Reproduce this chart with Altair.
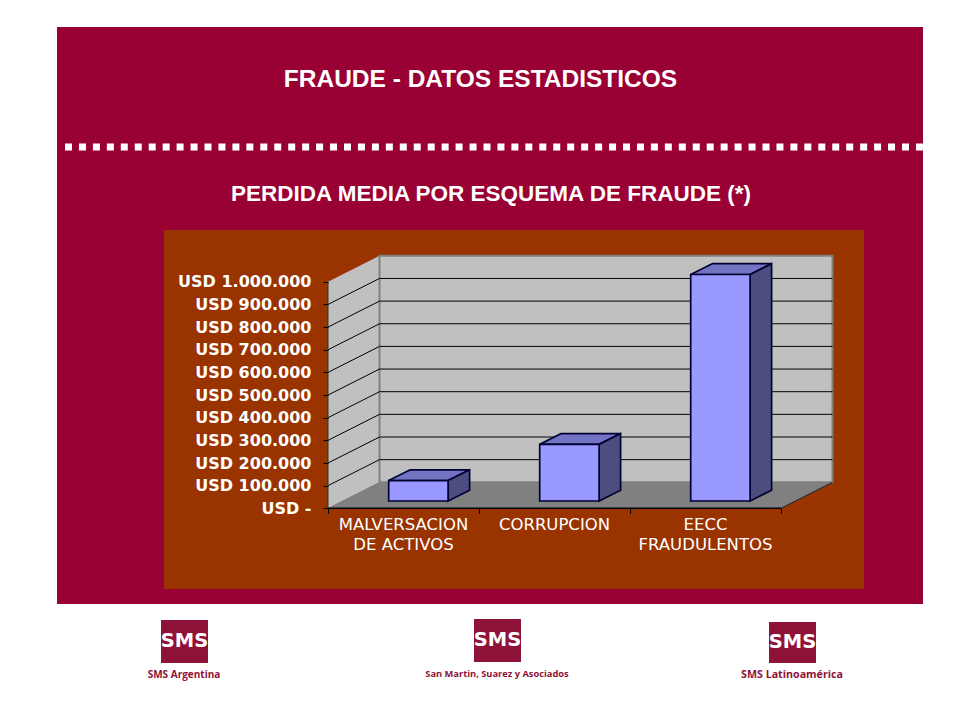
import altair as alt
import pandas as pd

# ---- chart values -------------------------------------------------------
categories = ["MALVERSACION\nDE ACTIVOS", "CORRUPCION", "EECC\nFRAUDULENTOS"]
losses = [90000, 250000, 1000000]
tick_values = [0, 100000, 200000, 300000, 400000, 500000, 600000, 700000, 800000, 900000, 1000000]
logo_names = ["SMS Argentina", "San Martin, Suarez y Asociados", "SMS Latinoamérica"]
title_text = "FRAUDE - DATOS ESTADISTICOS"
subtitle_text = "PERDIDA MEDIA POR ESQUEMA DE FRAUDE (*)"

# ---- layout -------------------------------------------------------------
W, H = 944, 704
PX_PER_CAT = 151.0
PX_PER_USD = 226.5 / 1_000_000
X0, Y0 = 328 - 8, 508.3 - 8          # plot origin in chart pixels
x_scale = alt.Scale(domain=[-X0 / PX_PER_CAT, (W - X0) / PX_PER_CAT], range=[0, W], nice=False, zero=False)
y_scale = alt.Scale(domain=[(Y0 - H) / PX_PER_USD, Y0 / PX_PER_USD], range=[H, 0], nice=False, zero=False)
N = len(categories)
DEPTH_X = 51.5 / PX_PER_CAT
DEPTH_Y = 26.0 / PX_PER_USD
TOP = max(tick_values)
BAR_HALF = 29.7 / PX_PER_CAT
BAR_SHIFT_X = 14.9 / PX_PER_CAT
BAR_SHIFT_Y = 7.3 / PX_PER_USD
BAR_DX = 21.5 / PX_PER_CAT
BAR_DY = 10.8 / PX_PER_USD

MAROON = "#990033"
BROWN = "#993300"
WALL = "#C0C0C0"
FLOOR = "#808080"
BAR_FRONT = "#9999FF"
BAR_TOP = "#7373C4"
BAR_SIDE = "#4D4D80"
LOGO = "#8F1239"


def X(field, **kw):
    return alt.X(field, type="quantitative", scale=x_scale, **kw)


def Y(field, **kw):
    return alt.Y(field, type="quantitative", scale=y_scale, **kw)


def box(x0, x1, y0, y1, color):
    return alt.Chart().mark_rect(color=color).encode(
        x=alt.value(x0 - 8), x2=alt.value(x1 - 8), y=alt.value(y0 - 8), y2=alt.value(y1 - 8))


def label(text, x, y, size, color="white", font="Liberation Sans", weight="bold"):
    return alt.Chart().mark_text(text=text, font=font, fontSize=size, fontWeight=weight, color=color,
                                 align="center", baseline="middle").encode(
        x=alt.value(x - 8), y=alt.value(y - 8))


# ---- 3D frame tables ----------------------------------------------------
side_wall = pd.DataFrame({"x": [0, DEPTH_X], "y": [0, DEPTH_Y], "y2": [TOP, TOP + DEPTH_Y]})
back_wall = pd.DataFrame({"x": [DEPTH_X], "x2": [N + DEPTH_X], "y": [DEPTH_Y], "y2": [TOP + DEPTH_Y]})
floor = pd.DataFrame({"y": [0, DEPTH_Y], "x": [0, DEPTH_X], "x2": [N, N + DEPTH_X]})
inner = [v for v in tick_values if 0 < v < TOP]
back_grid = pd.DataFrame({"x": DEPTH_X, "x2": N + DEPTH_X, "y": [v + DEPTH_Y for v in inner]})
side_grid = pd.DataFrame(
    [{"t": v, "x": 0, "y": v} for v in inner] + [{"t": v, "x": DEPTH_X, "y": v + DEPTH_Y} for v in inner])
front_x = pd.DataFrame({"x": [0], "x2": [N], "y": [0]})
front_y = pd.DataFrame({"x": [0], "y": [0], "y2": [TOP]})
right_edge = pd.DataFrame({"x": [N, N + DEPTH_X], "y": [0, DEPTH_Y]})

# ---- bars ---------------------------------------------------------------
front_rows, top_rows, side_rows = [], [], []
for i, (c, v) in enumerate(zip(categories, losses)):
    x0 = i + 0.5 - BAR_HALF + BAR_SHIFT_X
    x1 = i + 0.5 + BAR_HALF + BAR_SHIFT_X
    base = BAR_SHIFT_Y
    peak = BAR_SHIFT_Y + v
    front_rows.append({"c": c, "x": x0, "x2": x1, "y": base, "y2": peak})
    top_rows += [{"c": c, "y": peak, "x": x0, "x2": x1},
                 {"c": c, "y": peak + BAR_DY, "x": x0 + BAR_DX, "x2": x1 + BAR_DX}]
    side_rows += [{"c": c, "x": x1, "y": base, "y2": peak},
                  {"c": c, "x": x1 + BAR_DX, "y": base + BAR_DY, "y2": peak + BAR_DY}]
front_df, top_df, side_df = pd.DataFrame(front_rows), pd.DataFrame(top_rows), pd.DataFrame(side_rows)

cat_df = pd.DataFrame({"c": categories, "x": [i + 0.5 for i in range(N)]})

# ---- layers -------------------------------------------------------------
layers = [
    box(57, 923, 27, 604, MAROON),
    box(164, 864, 230, 589, BROWN),
    alt.Chart().mark_rule(color="white", strokeWidth=7, strokeDash=[7, 6.95]).encode(
        x=alt.value(65 - 8), x2=alt.value(923 - 8), y=alt.value(147 - 8)),
    label(title_text, 480.5, 80, 24.5),
    label(subtitle_text, 491, 193.5, 22.5),
]

# axes live on the side wall layer
layers.append(
    alt.Chart(side_wall).mark_area(color=WALL).encode(
        x=alt.X("x:Q", scale=x_scale, axis=alt.Axis(
            title=None, values=list(range(N + 1)), labels=False, grid=False, domain=False,
            tickColor="black", tickSize=5, orient="bottom", offset=Y0 - H, zindex=1)),
        y=alt.Y("y:Q", scale=y_scale, axis=alt.Axis(
            title=None, values=tick_values, grid=False, domain=False, orient="left", offset=-X0,
            tickColor="black", tickSize=5, labelPadding=12, zindex=1,
            labelColor="white", labelFont="DejaVu Sans", labelFontWeight="bold", labelFontSize=16,
            labelExpr="datum.value == 0 ? 'USD -' : 'USD ' + replace(format(datum.value, ',d'), /,/g, '.')")),
        y2="y2:Q",
    ))

layers += [
    alt.Chart(back_wall).mark_rect(color=WALL, stroke=FLOOR, strokeWidth=2).encode(
        x=X("x"), x2="x2:Q", y=Y("y"), y2="y2:Q"),
    alt.Chart(floor).mark_area(color=FLOOR, orient="horizontal").encode(
        y=Y("y"), x=X("x"), x2="x2:Q"),
    alt.Chart(back_grid).mark_rule(color="black", strokeWidth=1).encode(
        x=X("x"), x2="x2:Q", y=Y("y")),
    alt.Chart(side_grid).mark_line(color="black", strokeWidth=1).encode(
        x=X("x"), y=Y("y"), detail="t:N"),
    alt.Chart(front_y).mark_rule(color="#333333", strokeWidth=1).encode(
        x=X("x"), y=Y("y"), y2="y2:Q"),
    alt.Chart(front_x).mark_rule(color="black", strokeWidth=1.5).encode(
        x=X("x"), x2="x2:Q", y=Y("y")),
    alt.Chart(right_edge).mark_line(color="#222222", strokeWidth=1).encode(
        x=X("x"), y=Y("y")),
    alt.Chart(top_df).mark_area(color=BAR_TOP, stroke="#000033", strokeWidth=1.7, orient="horizontal").encode(
        y=Y("y"), x=X("x"), x2="x2:Q", detail="c:N"),
    alt.Chart(side_df).mark_area(color=BAR_SIDE, stroke="#000033", strokeWidth=1.7).encode(
        x=X("x"), y=Y("y"), y2="y2:Q", detail="c:N"),
    alt.Chart(front_df).mark_rect(color=BAR_FRONT, stroke="#000033", strokeWidth=1.7).encode(
        x=X("x"), x2="x2:Q", y=Y("y"), y2="y2:Q"),
    alt.Chart(cat_df).mark_text(font="DejaVu Sans", fontSize=16.5, color="white", lineBreak="\n",
                                lineHeight=20, align="center", baseline="top").encode(
        x=X("x"), y=alt.value(517 - 8), text="c:N"),
]

# logos
logo_boxes = [(161, 208, 620, 663), (474, 521, 619, 662), (769, 816, 622, 663)]
logo_text_pos = [(184, 675, 10), (497, 674, 9.3), (792, 675, 10.7)]
for (x0, x1, y0, y1), name, (tx, ty, ts) in zip(logo_boxes, logo_names, logo_text_pos):
    layers.append(box(x0, x1, y0, y1, LOGO))
    layers.append(label("SMS", (x0 + x1) / 2, (y0 + y1) / 2 - 0.5, 19.5, font="DejaVu Sans"))
    layers.append(label(name, tx, ty, ts, color=LOGO, font="Open Sans"))

chart = alt.layer(*layers).properties(
    width=W, height=H, padding=0, autosize="none", background="white"
).configure_view(stroke=None)

chart.save("out.html", embed_options={"renderer": "svg", "actions": False})
